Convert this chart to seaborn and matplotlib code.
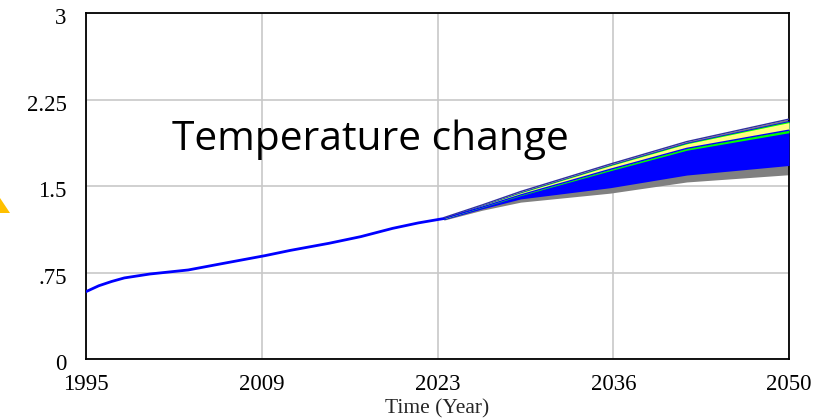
import numpy as np
import pandas as pd
import seaborn as sns
import matplotlib as mpl
import matplotlib.pyplot as plt
from matplotlib.patches import Polygon

# === DATA ===
# base run (year, temperature change)
base_years = [1995, 1996, 1997, 1998, 2000, 2003, 2005.5, 2009, 2011, 2014, 2016.5, 2019, 2021, 2023,
              2026, 2029, 2036, 2042, 2050]
base_vals = [0.584, 0.635, 0.672, 0.703, 0.737, 0.772, 0.824, 0.896, 0.942, 1.003, 1.061, 1.133, 1.180, 1.218,
             1.317, 1.422, 1.644, 1.826, 1.984]

# sensitivity bands after 2023
band_years = [2023, 2026, 2029, 2036, 2042, 2050]
q_max = [1.226, 1.336, 1.452, 1.690, 1.885, 2.080]
q975 = [1.224, 1.333, 1.447, 1.684, 1.878, 2.068]
q875 = [1.222, 1.331, 1.444, 1.680, 1.872, 2.060]
q75 = [1.221, 1.329, 1.440, 1.675, 1.866, 2.050]
q25 = [1.216, 1.319, 1.424, 1.646, 1.829, 1.988]
q125 = [1.214, 1.314, 1.416, 1.632, 1.810, 1.962]
q025 = [1.208, 1.302, 1.388, 1.485, 1.595, 1.678]
q_min = [1.204, 1.290, 1.360, 1.438, 1.535, 1.598]

x_ticks = [1995, 2008.75, 2022.5, 2036.25, 2050]
x_labels = ['1995', '2009', '2023', '2036', '2050']
y_ticks = [0, 0.75, 1.5, 2.25, 3]
y_labels = ['0', '.75', '1.5', '2.25', '3']

bands = pd.DataFrame({'year': band_years, 'min': q_min, 'q025': q025, 'q125': q125, 'q25': q25,
                      'q75': q75, 'q875': q875, 'q975': q975, 'max': q_max})
base = pd.DataFrame({'year': base_years, 'value': base_vals})
hist = base[base['year'] <= 2023]
proj = base[base['year'] >= 2023]

# === FIGURE SETUP ===
sns.set_style('white')
mpl.rcParams.update({'font.family': ['Liberation Serif', 'DejaVu Serif']})

fig = plt.figure(figsize=(8.38, 4.2), dpi=100)
ax = fig.add_axes([86/838, 1 - 359/420, (789 - 86)/838, (359 - 13)/420])

# === BANDS ===
ax.fill_between(bands['year'], bands['min'], bands['max'], color='#808080', lw=0, zorder=2)
ax.fill_between(bands['year'], bands['q025'], bands['q975'], color='#0000ff', lw=0, zorder=3)
ax.fill_between(bands['year'], bands['q125'], bands['q875'], color='#00ff00', lw=0, zorder=4)
ax.fill_between(bands['year'], bands['q25'], bands['q75'], color='#ffff80', lw=0, zorder=5)

# === BASE RUN ===
sns.lineplot(data=hist, x='year', y='value', color='#0000ff', lw=2.0, ax=ax, zorder=6)
sns.lineplot(data=proj, x='year', y='value', color='#0000ff', lw=1.0, ax=ax, zorder=6)
ax.plot(bands['year'], bands['max'], color='#3030a0', lw=1.0, zorder=6)

# === AXES ===
ax.set_xlim(1995, 2050)
ax.set_ylim(0, 3)
ax.set_xticks(x_ticks)
ax.set_xticklabels(x_labels)
ax.set_yticks(y_ticks)
ax.set_yticklabels(y_labels)
ax.tick_params(axis='both', length=0, labelsize=16.5, colors='black')
ax.tick_params(axis='x', pad=11)
ax.tick_params(axis='y', pad=14)
shift = mpl.transforms.ScaledTranslation(0, -2.5/72, fig.dpi_scale_trans)
for lab in ax.get_yticklabels():
    lab.set_transform(lab.get_transform() + shift)

ax.grid(True, color='#c8c8c8', lw=1.2)
ax.set_axisbelow(True)
for s in ax.spines.values():
    s.set_color('black')
    s.set_linewidth(1.3)

ax.set_xlabel('Time (Year)', fontsize=15.5, labelpad=3)
ax.set_ylabel('')

# === TITLE INSIDE PLOT ===
ax.text(172, 420 - 150, 'Temperature change', transform=None, fontsize=29.3,
        family=['Open Sans', 'DejaVu Sans'], ha='left', va='baseline', color='black', zorder=10)

# orange marker cut off at the left edge
fig.patches.append(Polygon([(0, 1 - 198/420), (10/838, 1 - 213/420), (0, 1 - 213/420)],
                           closed=True, transform=fig.transFigure, color='#ffc000', lw=0))

fig.savefig('out.png', dpi=100)
